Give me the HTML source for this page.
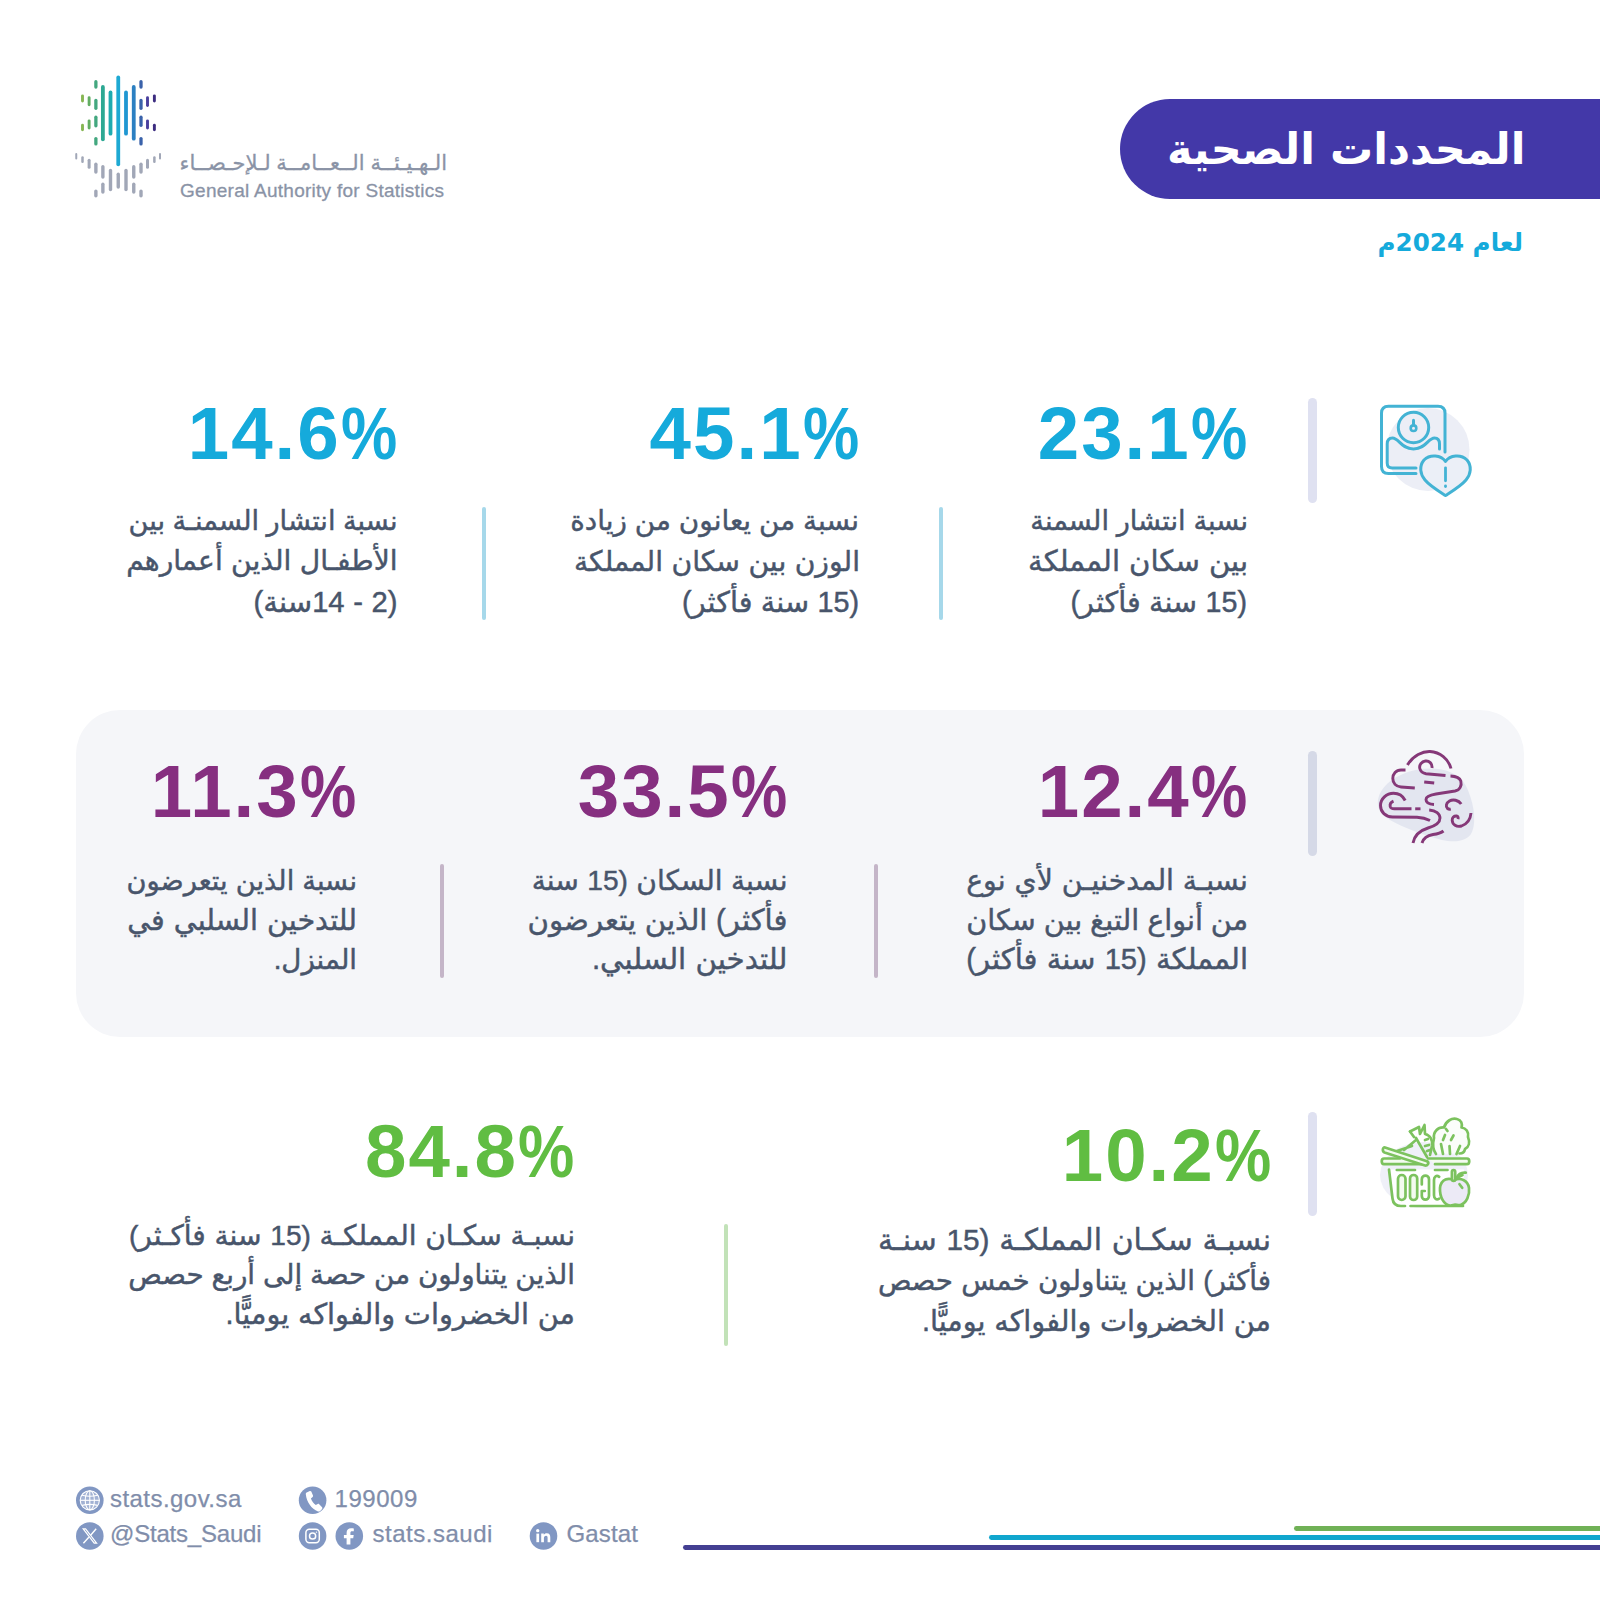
<!DOCTYPE html>
<html lang="ar">
<head>
<meta charset="utf-8">
<title>المحددات الصحية</title>
<style>
html,body{margin:0;padding:0;background:#fff;}
body{width:1600px;height:1600px;position:relative;overflow:hidden;font-family:"Liberation Sans","DejaVu Sans",sans-serif;}
.abs{position:absolute;}
.num{position:absolute;font-weight:bold;font-size:74.5px;line-height:80px;white-space:nowrap;direction:ltr;text-align:right;letter-spacing:2px;}
.pc{display:inline-block;letter-spacing:0;transform:scaleX(0.85);transform-origin:100% 50%;margin-left:-10px;}
.cy{color:#15aadb;}
.pu{color:#862f80;}
.gr{color:#60bd42;}
.txt{position:absolute;direction:rtl;text-align:right;color:#48556b;font-size:29px;line-height:40px;height:40px;white-space:nowrap;-webkit-text-stroke:0.45px #48556b;}
.bar{position:absolute;width:9px;border-radius:4.5px;background:#dfe1f1;}
.sep{position:absolute;width:4.4px;border-radius:2.2px;}
.ft{position:absolute;font-size:24px;line-height:30px;color:#808daa;-webkit-text-stroke:0.25px #808daa;white-space:nowrap;direction:ltr;}
svg{position:absolute;overflow:visible;}
</style>
</head>
<body>
<svg class="abs" style="left:0;top:0" width="260" height="260" viewBox="0 0 260 260" fill="none" stroke-linecap="round">
<line x1="82.5" y1="95.83" x2="82.5" y2="101.05" stroke="#86b653" stroke-width="2.9"/>
<line x1="82.5" y1="125.2" x2="82.5" y2="129.8" stroke="#86b653" stroke-width="2.9"/>
<line x1="89.12" y1="97.7" x2="89.12" y2="104.8" stroke="#62ad62" stroke-width="2.9"/>
<line x1="89.12" y1="120.83" x2="89.12" y2="127.93" stroke="#62ad62" stroke-width="2.9"/>
<line x1="95.88" y1="81.65" x2="95.88" y2="87.1" stroke="#43a77f" stroke-width="3.3"/>
<line x1="95.88" y1="100.4" x2="95.88" y2="108.35" stroke="#43a77f" stroke-width="3.3"/>
<line x1="95.88" y1="117.27" x2="95.88" y2="125.85" stroke="#43a77f" stroke-width="3.3"/>
<line x1="95.88" y1="138.53" x2="95.88" y2="143.97" stroke="#43a77f" stroke-width="3.3"/>
<line x1="102.88" y1="86.9" x2="102.88" y2="139.35" stroke="#2da893" stroke-width="3.8"/>
<line x1="110.5" y1="92.52" x2="110.5" y2="133.72" stroke="#1fabb0" stroke-width="3.8"/>
<line x1="118.25" y1="77.52" x2="118.25" y2="164.35" stroke="#1ea9d3" stroke-width="3.8"/>
<line x1="126.0" y1="92.52" x2="126.0" y2="133.72" stroke="#1f97d2" stroke-width="3.8"/>
<line x1="133.75" y1="86.9" x2="133.75" y2="138.72" stroke="#2c80c2" stroke-width="3.8"/>
<line x1="141.0" y1="81.65" x2="141.0" y2="87.1" stroke="#3a62aa" stroke-width="3.3"/>
<line x1="141.0" y1="100.4" x2="141.0" y2="108.35" stroke="#3a62aa" stroke-width="3.3"/>
<line x1="141.0" y1="117.27" x2="141.0" y2="125.23" stroke="#3a62aa" stroke-width="3.3"/>
<line x1="141.0" y1="138.53" x2="141.0" y2="143.97" stroke="#3a62aa" stroke-width="3.3"/>
<line x1="147.5" y1="97.7" x2="147.5" y2="105.43" stroke="#4a3f9e" stroke-width="2.9"/>
<line x1="147.5" y1="120.83" x2="147.5" y2="127.93" stroke="#4a3f9e" stroke-width="2.9"/>
<line x1="154.38" y1="95.83" x2="154.38" y2="101.05" stroke="#3c2c80" stroke-width="2.9"/>
<line x1="154.38" y1="125.2" x2="154.38" y2="129.8" stroke="#3c2c80" stroke-width="2.9"/>
<line x1="76.25" y1="154.12" x2="76.25" y2="158.38" stroke="#a1a7b7" stroke-width="2.0"/>
<line x1="82.5" y1="157.5" x2="82.5" y2="161.87" stroke="#a1a7b7" stroke-width="2.5"/>
<line x1="89.12" y1="160.25" x2="89.12" y2="167.25" stroke="#a1a7b7" stroke-width="3.0"/>
<line x1="95.88" y1="164.2" x2="95.88" y2="172.05" stroke="#a1a7b7" stroke-width="3.4"/>
<line x1="95.88" y1="191.08" x2="95.88" y2="195.8" stroke="#a1a7b7" stroke-width="3.4"/>
<line x1="102.88" y1="166.7" x2="102.88" y2="177.05" stroke="#a1a7b7" stroke-width="3.4"/>
<line x1="102.88" y1="184.2" x2="102.88" y2="192.05" stroke="#a1a7b7" stroke-width="3.4"/>
<line x1="110.5" y1="170.45" x2="110.5" y2="189.55" stroke="#a1a7b7" stroke-width="3.4"/>
<line x1="118.25" y1="174.2" x2="118.25" y2="187.05" stroke="#a1a7b7" stroke-width="3.4"/>
<line x1="126.0" y1="170.45" x2="126.0" y2="189.55" stroke="#a1a7b7" stroke-width="3.4"/>
<line x1="133.75" y1="166.7" x2="133.75" y2="177.05" stroke="#a1a7b7" stroke-width="3.4"/>
<line x1="133.75" y1="184.2" x2="133.75" y2="192.05" stroke="#a1a7b7" stroke-width="3.4"/>
<line x1="141.0" y1="164.2" x2="141.0" y2="172.05" stroke="#a1a7b7" stroke-width="3.4"/>
<line x1="141.0" y1="191.08" x2="141.0" y2="195.8" stroke="#a1a7b7" stroke-width="3.4"/>
<line x1="147.5" y1="160.25" x2="147.5" y2="167.25" stroke="#a1a7b7" stroke-width="3.0"/>
<line x1="154.38" y1="157.5" x2="154.38" y2="161.87" stroke="#a1a7b7" stroke-width="2.5"/>
<line x1="160.0" y1="154.12" x2="160.0" y2="158.38" stroke="#a1a7b7" stroke-width="2.0"/>
</svg>
<div class="abs" id="logo-ar" style="left:160px;top:145px;width:287px;height:36px;font-size:21px;line-height:36px;color:#8a93a6;-webkit-text-stroke:0.3px #8a93a6;direction:rtl;text-align:right;white-space:nowrap;">الـهـيـئــة الــعــامــة لـلإحـصــاء</div>
<div class="abs" id="logo-en" style="left:180px;top:176.5px;font-size:19px;line-height:28px;color:#8a93a6;-webkit-text-stroke:0.3px #8a93a6;white-space:nowrap;letter-spacing:0.27px;">General Authority for Statistics</div>

<div class="abs" style="left:1119.5px;top:98.500px;width:481px;height:100px;background:#4338a8;border-radius:50px 0 0 50px;"></div>
<div class="abs" id="title" style="right:74.500px;top:112.5px;font-family:'DejaVu Sans',sans-serif;font-size:43px;line-height:72px;font-weight:bold;color:#fff;direction:rtl;white-space:nowrap;">المحددات الصحية</div>
<div class="abs" id="subtitle" style="right:77px;top:224.8px;font-family:'DejaVu Sans',sans-serif;font-size:24.6px;line-height:36px;font-weight:bold;color:#15aadb;direction:rtl;white-space:nowrap;">لعام 2024م</div>
<!-- Row 1 -->
<div class="bar" style="left:1308.4px;top:398px;height:105px;"></div>
<div class="num cy" id="n1" style="right:353.0px;top:394.0px;">23.1<span class="pc">%</span></div>
<div class="sep" style="left:939px;top:507px;height:113px;background:#a6d8ea;"></div>
<div class="num cy" id="n2" style="right:741.2px;top:394.4px;">45.1<span class="pc">%</span></div>
<div class="sep" style="left:482px;top:507px;height:113px;background:#a6d8ea;"></div>
<div class="num cy" id="n3" style="right:1203.0px;top:394.0px;">14.6<span class="pc">%</span></div>
<!-- Row 2 -->
<div class="abs" style="left:76px;top:710px;width:1448px;height:327px;border-radius:44px;background:#f5f6f9;"></div>
<div class="bar" style="left:1308.3px;top:751px;height:105px;background:#d5d9e7;"></div>
<div class="num pu" id="n4" style="right:353.0px;top:752.0px;">12.4<span class="pc">%</span></div>
<div class="sep" style="left:874px;top:864px;height:114px;background:#c4b5c8;"></div>
<div class="num pu" id="n5" style="right:813.0px;top:752.4px;">33.5<span class="pc">%</span></div>
<div class="sep" style="left:440px;top:864px;height:114px;background:#c4b5c8;"></div>
<div class="num pu" id="n6" style="right:1244.0px;top:752.0px;">11.3<span class="pc">%</span></div>
<!-- Row 3 -->
<div class="bar" style="left:1308.4px;top:1112px;height:104px;"></div>
<div class="num gr" id="n7" style="right:329.0px;top:1115.8px;">10.2<span class="pc">%</span></div>
<div class="sep" style="left:724px;top:1224px;height:122px;background:#c2e2b8;"></div>
<div class="num gr" id="n8" style="right:1025.8px;top:1112.0px;">84.8<span class="pc">%</span></div>
<div class="txt" id="t1_0" style="right:352.0px;top:501.2px;font-size:27.2px;word-spacing:0.17px;">نسبة انتشار السمنة</div>
<div class="txt" id="t1_1" style="right:352.0px;top:541.0px;font-size:29.13px;word-spacing:1.00px;">بين سكان المملكة</div>
<div class="txt" id="t1_2" style="right:353.0px;top:581.7px;font-size:28.67px;word-spacing:0.50px;">(15 سنة فأكثر)</div>
<div class="txt" id="t2_0" style="right:741.0px;top:501.0px;font-size:27.84px;word-spacing:0.24px;">نسبة من يعانون من زيادة</div>
<div class="txt" id="t2_1" style="right:740.0px;top:541.3px;font-size:28.22px;word-spacing:0.55px;">الوزن بين سكان المملكة</div>
<div class="txt" id="t2_2" style="right:741.0px;top:581.6px;font-size:28.77px;word-spacing:0.40px;">(15 سنة فأكثر)</div>
<div class="txt" id="t3_0" style="right:1202.5px;top:501.2px;font-size:27.2px;word-spacing:-0.13px;">نسبة انتشار السمنـة بين</div>
<div class="txt" id="t3_1" style="right:1202.5px;top:541.4px;font-size:28.13px;word-spacing:0.54px;">الأطفـال الذين أعمارهم</div>
<div class="txt" id="t3_2" style="right:1202.5px;top:581.5px;font-size:29.16px;word-spacing:0.54px;">(2 - 14سنة)</div>
<div class="txt" id="t4_0" style="right:352.0px;top:860.4px;font-size:28.34px;word-spacing:1.00px;">نسبـة المدخنيـن لأي نوع</div>
<div class="txt" id="t4_1" style="right:352.0px;top:899.8px;font-size:28.64px;word-spacing:-0.02px;">من أنواع التبغ بين سكان</div>
<div class="txt" id="t4_2" style="right:352.0px;top:939.1px;font-size:29.16px;word-spacing:1.01px;">المملكة (15 سنة فأكثر)</div>
<div class="txt" id="t5_0" style="right:812.5px;top:860.5px;font-size:28.11px;word-spacing:0.67px;">نسبة السكان (15 سنة</div>
<div class="txt" id="t5_1" style="right:812.5px;top:899.6px;font-size:29.23px;word-spacing:0.50px;">فأكثر) الذين يتعرضون</div>
<div class="txt" id="t5_2" style="right:812.5px;top:939.0px;font-size:29.31px;word-spacing:1.00px;">للتدخين السلبي.</div>
<div class="txt" id="t6_0" style="right:1243.0px;top:860.8px;font-size:27.26px;word-spacing:0.50px;">نسبة الذين يتعرضون</div>
<div class="txt" id="t6_1" style="right:1243.0px;top:899.8px;font-size:28.65px;word-spacing:1.00px;">للتدخين السلبي في</div>
<div class="txt" id="t6_2" style="right:1243.0px;top:939.6px;font-size:27.62px;">المنزل.</div>
<div class="txt" id="t7_0" style="right:329.0px;top:1219.7px;font-size:29.8px;word-spacing:1.39px;">نسبـة سكـان المملكـة (15 سنـة</div>
<div class="txt" id="t7_1" style="right:329.0px;top:1260.8px;font-size:27.72px;word-spacing:0.50px;">فأكثر) الذين يتناولون خمس حصص</div>
<div class="txt" id="t7_2" style="right:329.0px;top:1300.8px;font-size:28.75px;word-spacing:0.67px;">من الخضروات والفواكه يوميًّا.</div>
<div class="txt" id="t8_0" style="right:1025.0px;top:1215.5px;font-size:28.09px;word-spacing:0.92px;">نسبـة سكـان المملكـة (15 سنة فأكـثر)</div>
<div class="txt" id="t8_1" style="right:1025.0px;top:1255.2px;font-size:27.79px;word-spacing:0.11px;">الذين يتناولون من حصة إلى أربع حصص</div>
<div class="txt" id="t8_2" style="right:1025.0px;top:1294.4px;font-size:28.78px;word-spacing:0.72px;">من الخضروات والفواكه يوميًّا.</div>
<!-- Icon 1: scale + heart -->
<svg style="left:1340px;top:380px" width="160" height="140" viewBox="0 0 1600 1400" fill="none" stroke-linecap="round" stroke-linejoin="round">
<circle cx="880" cy="695" r="415" fill="#eceef6"/>
<g stroke="#43b3d4" stroke-width="30">
<path d="M760 935 L485 935 Q415 935 415 865 L415 332 Q415 262 485 262 L980 262 Q1050 262 1050 332 L1050 720"/>
<circle cx="735" cy="475" r="152"/>
<circle cx="735" cy="482" r="28" stroke-width="26"/>
<line x1="735" y1="450" x2="735" y2="402"/>
<path d="M995 690 L995 640 Q995 580 945 580 C880 580 860 690 735 690 C610 690 590 580 525 580 Q472 580 472 640 L472 830 Q472 880 522 880 L760 880"/>
<path d="M1055 815 C1010 750 900 740 840 800 C790 860 800 940 850 1000 C900 1060 1000 1120 1055 1155 C1110 1120 1210 1060 1260 1000 C1310 940 1320 860 1270 800 C1210 740 1100 750 1055 815 Z" fill="#ebeff7"/>
<line x1="1055" y1="878" x2="1055" y2="1008" stroke-width="28"/>
<line x1="1055" y1="1058" x2="1055" y2="1066" stroke-width="28"/>
</g>
</svg>
<!-- Icon 2: smoke -->
<svg style="left:1340px;top:730px" width="160" height="140" viewBox="0 0 1600 1400" fill="none" stroke-linecap="butt" stroke-linejoin="round">
<path d="M380 700 C400 560 560 440 760 400 C960 360 1180 400 1260 560 C1330 700 1370 900 1320 1020 C1280 1110 1160 1130 1020 1100 C860 1060 640 980 500 900 C400 840 370 780 380 700 Z" fill="#e3e6f0"/>
<g stroke="#853878" stroke-width="29">
<path d="M675 350 C730 255 830 212 900 215 C1000 220 1085 290 1110 385"/>
<path d="M920 380 C925 335 890 305 855 310 C815 315 790 350 798 385 C805 415 825 432 860 437 L1055 455"/>
<path d="M1105 460 C1150 462 1195 470 1208 510 C1220 555 1200 600 1150 610 L960 640 C900 650 860 665 860 695 C860 725 890 742 940 745"/>
<path d="M655 400 L610 400 C560 400 528 440 528 485 C528 530 560 568 610 570 L748 580"/>
<path d="M842 520 L942 530"/>
<path d="M652 705 C630 660 585 632 535 632 C465 632 405 690 405 755 C405 820 455 868 525 870 L770 872 C820 875 860 885 900 905"/>
<path d="M535 712 C510 722 498 745 502 765 C506 782 520 788 545 788 L715 788"/>
<path d="M752 788 L805 788"/>
<path d="M892 800 C960 805 1000 840 1000 880 C1000 930 950 960 880 980 C800 1005 745 1050 730 1130"/>
<path d="M820 1130 C835 1080 870 1055 930 1045 C985 1038 1010 1030 1035 1010"/>
<path d="M1212 740 C1185 700 1130 690 1095 710 C1060 730 1055 765 1075 785 C1085 793 1095 795 1108 792"/>
<path d="M1310 830 C1305 890 1270 940 1215 960 C1165 975 1125 945 1122 905 C1120 875 1140 858 1165 860 C1180 862 1185 875 1180 892"/>
</g>
</svg>
<!-- Icon 3: basket -->
<svg style="left:1340px;top:1090px" width="160" height="140" viewBox="0 0 1600 1400" fill="none" stroke-linecap="round" stroke-linejoin="round">
<ellipse cx="840" cy="850" rx="440" ry="330" fill="#eff0f8"/>
<path d="M490 795 L1240 795 L1230 1160 L610 1160 C560 1160 530 1130 525 1085 Z" fill="#fff"/>
<g stroke="#7cc25e" stroke-width="27">
<!-- broccoli -->
<path d="M960 640 C930 600 925 540 940 480 C930 420 980 370 1040 375 C1060 310 1120 275 1170 290 C1215 300 1225 340 1215 375 C1260 380 1290 420 1280 470 C1300 520 1290 570 1250 590 C1245 620 1225 635 1195 635" fill="#fbfdfa"/>
<path d="M1030 640 L1010 540 M1100 640 L1095 560 M1165 640 L1200 560 M1030 500 L1050 450 M1110 500 L1135 455 M1060 390 L1075 410"/>
<!-- carrot -->
<path d="M700 415 L790 370 L800 440 L845 350 L850 440 C900 450 930 500 920 560 L900 650" />
<path d="M760 480 L870 670 M850 500 L880 490 M850 560 L890 550 M870 610 L900 600 M700 415 L740 470"/>
<path d="M570 610 L720 560 M640 600 L760 500"/>
<!-- rim -->
<path d="M880 685 L1270 685 C1300 685 1300 742 1270 742 L950 742" fill="#f3fbef"/>
<path d="M860 742 L440 742 C410 742 410 685 440 685 L600 685" fill="#f3fbef"/>
<path d="M450 575 C425 570 420 615 445 625 L850 755 C880 760 895 725 870 712 Z" fill="#f3fbef"/>
<!-- body -->
<path d="M490 795 L525 1085 C530 1130 560 1160 610 1160 L650 1160 M705 1160 L1230 1160"/>
<path d="M568 800 L750 800 M950 800 L1075 800"/>
<rect x="580" y="850" width="75" height="250" rx="37" fill="#f3fbef"/>
<rect x="700" y="850" width="72" height="250" rx="36" fill="#f3fbef"/>
<path d="M818 945 L818 892 C818 845 890 845 890 892 L890 1060 C890 1107 818 1107 818 1060 L818 1010 L848 1010"/>
<path d="M992 868 C965 848 940 865 940 900 L940 1052 C940 1088 965 1103 992 1086"/>
<!-- apple -->
<path d="M1140 905 C1090 870 1010 890 1000 980 C995 1070 1040 1150 1100 1155 C1125 1157 1135 1145 1150 1145 C1165 1145 1180 1157 1205 1150 C1265 1130 1300 1050 1290 980 C1280 900 1200 870 1140 905 Z" fill="#eceaf6"/>
<rect x="1119" y="800" width="33" height="108" rx="16.5" fill="#f3fbef"/>
<path d="M1165 880 C1180 845 1215 822 1258 826 M1185 870 L1225 850 M1195 942 L1222 978"/>
</g>
</svg>
<!-- Footer -->
<svg style="left:0;top:1480px" width="700" height="90" viewBox="0 1480 700 90">
<g fill="#8197c3">
<circle cx="89.8" cy="1500.3" r="13.8"/>
<circle cx="312.6" cy="1500.3" r="13.8"/>
<circle cx="89.8" cy="1536" r="13.8"/>
<circle cx="312.6" cy="1536" r="13.8"/>
<circle cx="349.3" cy="1536" r="13.8"/>
<circle cx="543.5" cy="1536" r="13.8"/>
</g>
<!-- globe -->
<g fill="none" stroke="#fff" stroke-width="1.1">
<circle cx="89.8" cy="1500.3" r="9.6" fill="#dfe6f3" fill-opacity="0.35"/>
<ellipse cx="89.8" cy="1500.3" rx="4.6" ry="9.6"/>
<line x1="89.8" y1="1490.7" x2="89.8" y2="1509.9"/>
<line x1="80.2" y1="1500.3" x2="99.4" y2="1500.3"/>
<path d="M82 1495.2 Q89.8 1497.2 97.6 1495.2 M82 1505.4 Q89.8 1503.4 97.6 1505.4"/>
</g>
<!-- phone -->
<path fill="#fff" d="M307.2 1492.2 l2.6 -1.2 c0.6 -0.3 1.2 0 1.5 0.6 l1.7 3.9 c0.2 0.6 0.1 1.1 -0.4 1.5 l-1.7 1.4 c1.1 2.6 2.7 4.9 4.9 6.7 l1.9 -1.1 c0.5 -0.3 1.1 -0.2 1.5 0.2 l2.9 3.1 c0.4 0.5 0.4 1.1 0 1.6 l-1.9 2 c-0.6 0.6 -1.4 0.8 -2.2 0.5 c-6.6 -2.7 -11.3 -9.200 -12.2 -17.2 c-0.1 -0.9 0.4 -1.700 1.4 -2 z"/>
<!-- X -->
<g fill="none" stroke="#fff" stroke-width="1.5">
<path d="M83.2 1528.8 L94.2 1543.2 L96.6 1543.2 L85.600 1528.8 Z" stroke-width="1.2"/>
<path d="M96.2 1528.8 L90.6 1535.2 M88.8 1537.2 L83.4 1543.2" stroke-width="1.4"/>
</g>
<!-- instagram -->
<g fill="none" stroke="#fff" stroke-width="1.5">
<rect x="305.9" y="1529.3" width="13.4" height="13.4" rx="3.4"/>
<circle cx="312.6" cy="1536" r="3.1"/>
<circle cx="316.4" cy="1532.2" r="0.4" fill="#fff" stroke-width="0.7"/>
</g>
<!-- facebook -->
<path fill="#fff" d="M350.4 1544.600 v-6.4 h2.8 l0.500 -3.300 h-3.300 v-2 c0 -1 0.4 -1.6 1.7 -1.6 h1.7 v-2.900 c-0.6 -0.1 -1.6 -0.2 -2.700 -0.2 c-2.800 0 -4.500 1.600 -4.500 4.500 v2.200 h-2.700 v3.300 h2.700 v6.400 z"/>
<!-- linkedin -->
<g fill="#fff">
<rect x="536.4" y="1533.6" width="2.7" height="8.6"/>
<circle cx="537.75" cy="1530.7" r="1.65"/>
<path d="M541.2 1533.600 h2.600 v1.200 c0.500 -0.900 1.600 -1.500 3 -1.500 c2.800 0 3.500 1.800 3.500 4.200 v4.700 h-2.700 v-4.200 c0 -1.100 -0.100 -2.300 -1.500 -2.300 c-1.500 0 -2.200 1 -2.200 2.400 v4.100 h-2.700 z"/>
</g>
</svg>
<div class="ft" id="f1" style="left:110px;top:1484px;letter-spacing:0.45px;">stats.gov.sa</div>
<div class="ft" id="f2" style="left:334.500px;top:1484px;letter-spacing:0.55px;">199009</div>
<div class="ft" id="f3" style="left:110px;top:1519px;letter-spacing:-0.2px;">@Stats_Saudi</div>
<div class="ft" id="f4" style="left:372.500px;top:1519px;letter-spacing:0.52px;">stats.saudi</div>
<div class="ft" id="f5" style="left:566.500px;top:1519px;letter-spacing:0.15px;">Gastat</div>
<div class="abs" style="left:682.5px;top:1545px;width:930px;height:4.8px;border-radius:2.4px;background:#443f92;"></div>
<div class="abs" style="left:988.5px;top:1535.4px;width:630px;height:4.8px;border-radius:2.4px;background:#10a6ce;"></div>
<div class="abs" style="left:1293.7px;top:1526.2px;width:330px;height:4.8px;border-radius:2.4px;background:#70b156;"></div>
</body></html>
